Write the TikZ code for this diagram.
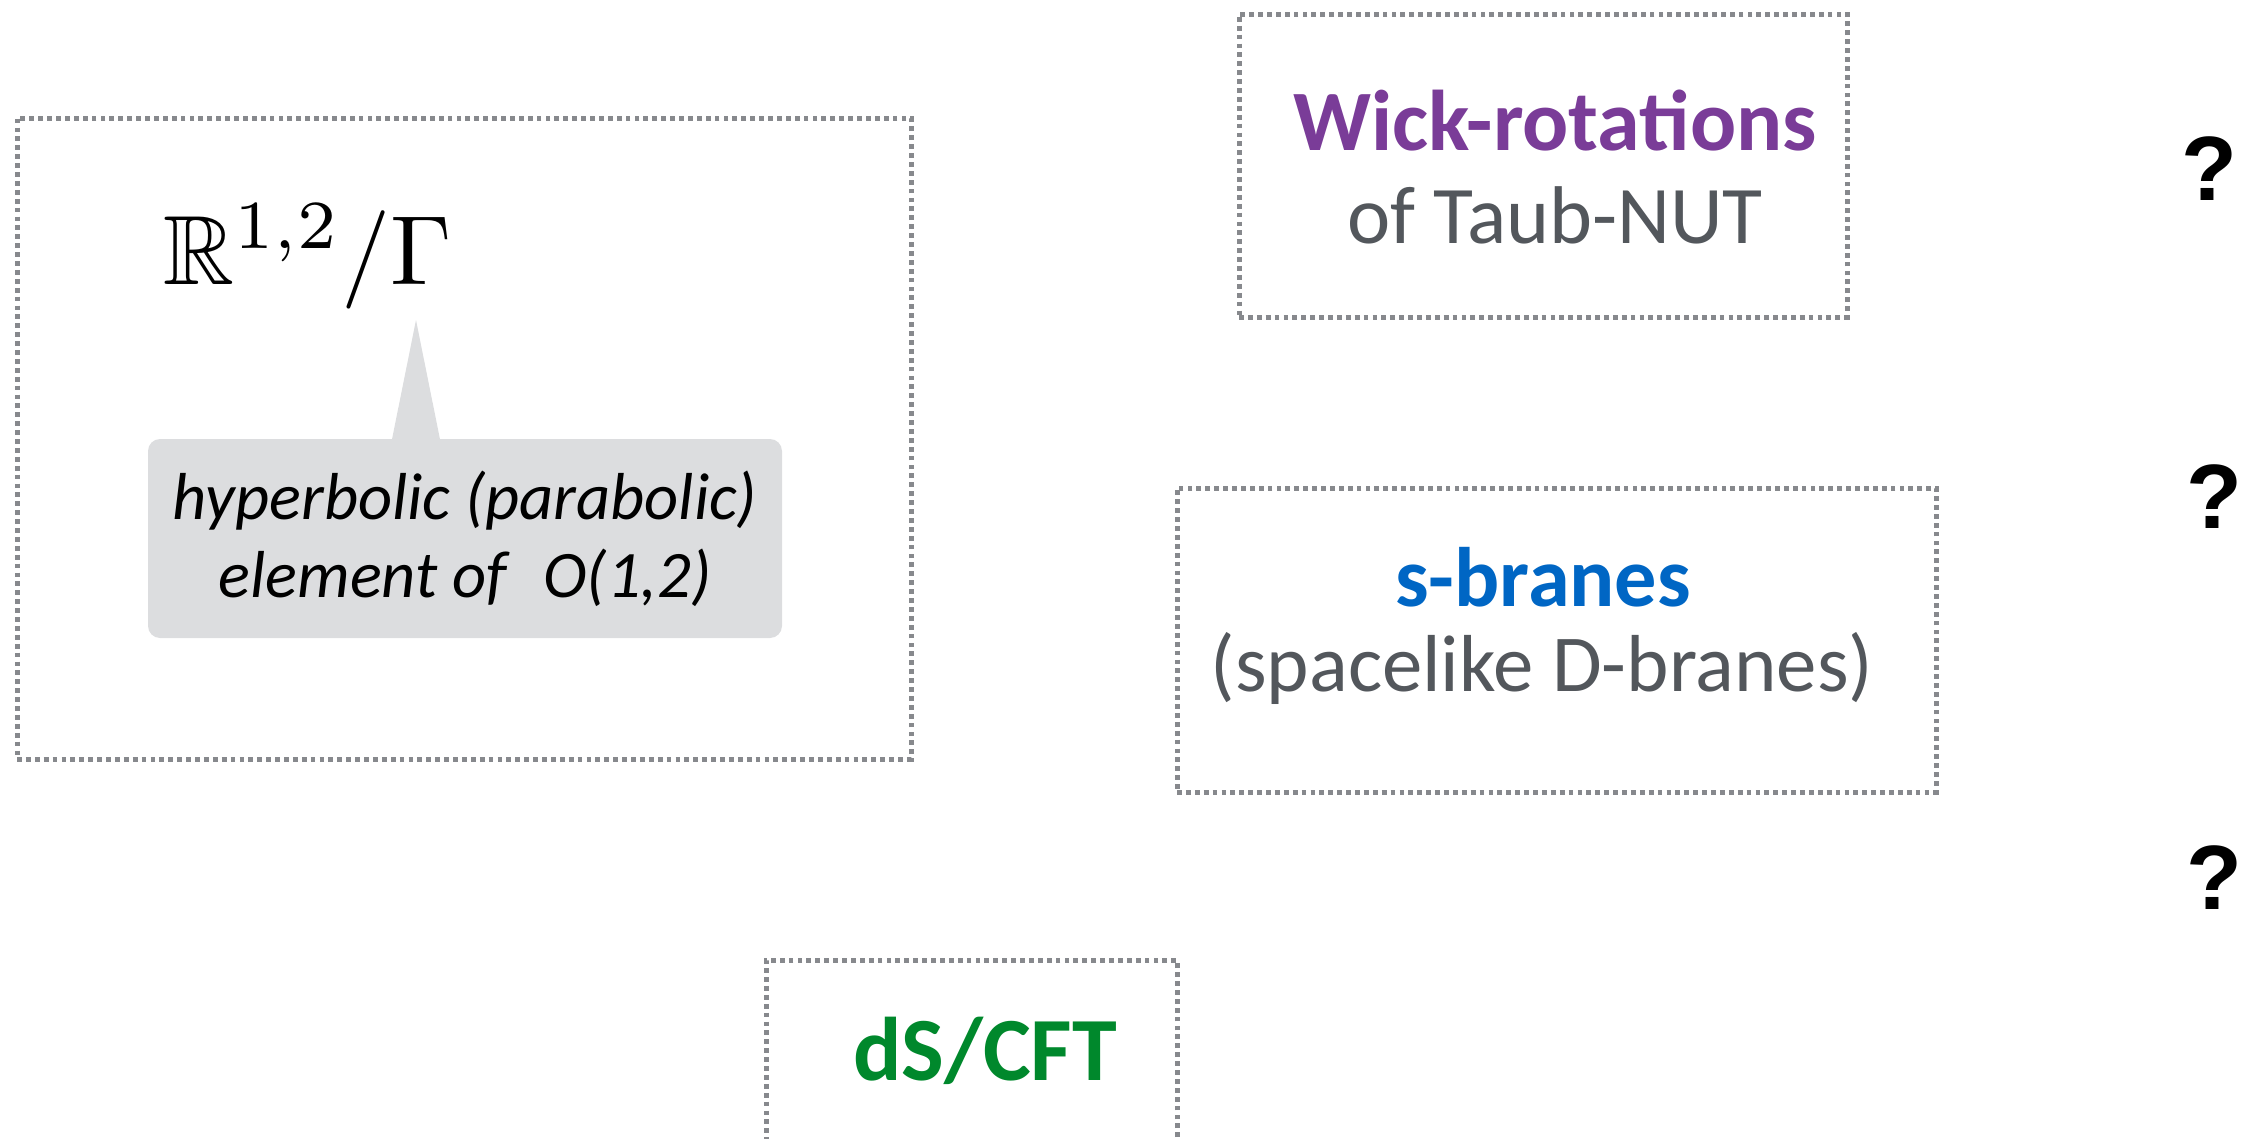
\documentclass[tikz,border=0pt]{standalone}
\usepackage{amssymb}
\usepackage{fontspec}
\usetikzlibrary{calc}
\newfontfamily\gill{Carlito}
\newfontfamily\helv{Liberation Sans}
\definecolor{dotgray}{RGB}{135,137,141}
\definecolor{wickpurple}{RGB}{122,60,152}
\definecolor{braneblue}{RGB}{0,102,196}
\definecolor{dsgreen}{RGB}{0,136,44}
\definecolor{textgray}{RGB}{83,87,92}
\definecolor{calloutgray}{RGB}{220,221,223}
\begin{document}
\begin{tikzpicture}[x=0.1mm,y=-0.1mm,
  framebox/.style={draw=dotgray, line width=0.5mm, dash pattern=on 0.48mm off 0.41mm, rectangle, inner sep=0pt},
  boldlabel/.style={inner sep=0pt, font=\gill\bfseries\fontsize{24.5}{28}\selectfont},
  plainlabel/.style={inner sep=0pt, text=textgray, font=\gill\fontsize{23.3}{28}\selectfont},
  qmark/.style={inner sep=0pt, font=\helv\bfseries\fontsize{26}{30}\selectfont},
  callout/.style={fill=calloutgray, rounded corners=1.2mm, inner sep=0pt, align=center,
     font=\gill\itshape\fontsize{18.9}{22.3}\selectfont}]
\useasboundingbox (0,0) rectangle (2257,1139);

% frames
\node[framebox, minimum width=89.4mm, minimum height=64.1mm] (left) at (464,438.5) {};
\node[framebox, minimum width=60.8mm, minimum height=30.3mm] (wick) at (1543,165.5) {};
\node[framebox, minimum width=75.9mm, minimum height=30.4mm] (sbr) at (1556.5,640) {};
\node[framebox, minimum width=41.1mm, minimum height=22mm] (ds) at (971.5,1070) {};

% left box content
\node[inner sep=0pt, anchor=base west] (quot) at (163,284) {\scalebox{2.8}{$\mathbb{R}^{1,2}/\Gamma$}};
\node[callout, minimum width=63.4mm, minimum height=19.9mm] (co) at (465,538.5)
  {hyperbolic (parabolic)\\element of\hspace{0.55em}O(1,2)};
\fill[calloutgray] ($(co.north)+(-73,1)$) -- (416,320) -- ($(co.north)+(-25,1)$) -- cycle;

% Wick box
\node[boldlabel, text=wickpurple] (wickt) at (1555,121) {Wick-rotations};
\node[plainlabel] (taub) at (1555,215) {of Taub-NUT};

% s-branes box
\node[boldlabel, font=\gill\bfseries\fontsize{24}{28}\selectfont, text=braneblue] (sbt) at (1543,577) {s-branes};
\node[plainlabel, font=\gill\fontsize{23}{28}\selectfont] (spl) at (1542,668) {(spacelike D-branes)};

% dS/CFT
\node[boldlabel, font=\gill\bfseries\fontsize{25.7}{30}\selectfont, text=dsgreen] (dst) at (985,1051) {dS/CFT};

% question marks
\node[qmark] (q1) at (2209,169) {?};
\node[qmark] (q2) at (2214,497) {?};
\node[qmark] (q3) at (2214,878) {?};
\end{tikzpicture}
\end{document}
